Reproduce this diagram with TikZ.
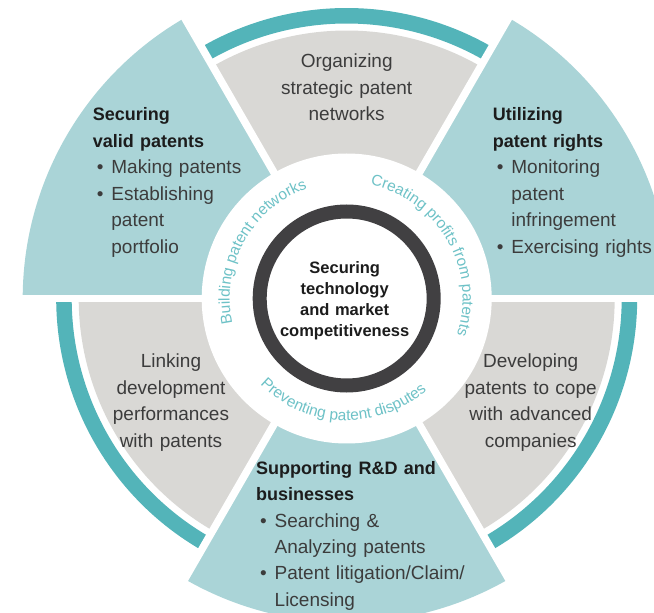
\documentclass[tikz,border=0pt]{standalone}
\usepackage{fontspec}
\setmainfont{Liberation Sans}
\usetikzlibrary{decorations.text}

\definecolor{tealsector}{HTML}{AAD4D7}
\definecolor{tealband}{HTML}{53B4B9}
\definecolor{graysector}{HTML}{D9D8D5}
\definecolor{hubring}{HTML}{414042}
\definecolor{curvetext}{HTML}{6EC2C7}
\definecolor{bodytext}{HTML}{3C3C3C}
\definecolor{headtext}{HTML}{1C1C1C}

\newcommand{\bodyfont}{\fontsize{19pt}{26.5pt}\selectfont\hyphenpenalty=10000}
\newcommand{\headfont}{\fontsize{18pt}{26.5pt}\selectfont\bfseries\color{headtext}}
\newcommand{\hubfont}{\fontsize{16.5pt}{21pt}\selectfont\bfseries}
\newcommand{\curvefont}{\fontsize{15.5pt}{17pt}\selectfont}
\newcommand{\bitem}{\hspace*{4pt}\makebox[14.5pt][l]{\textbullet}}
\newcommand{\bcont}{\hspace*{18.5pt}}

\begin{document}
\begin{tikzpicture}[x=1pt, y=1pt,
			teal part/.style={fill=tealsector},
			gray part/.style={fill=graysector},
			outer band/.style={draw=tealband, line width=15.5pt},
			gap line/.style={draw=white, line width=7.5pt},
			hub ring/.style={draw=hubring, line width=14pt},
			block/.style={inner sep=0pt, text width=300pt, align=left, font=\bodyfont, text=bodytext},
			gray block/.style={block, text width=200pt, align=center},
			hub text/.style={inner sep=0pt, text width=150pt, align=center, font=\hubfont, text=headtext},
			ring label/.style={decorate, decoration={text along path, text align=center, text color=curvetext, text={|\curvefont|#1}}}
			]
			
			\useasboundingbox (-346.7,-314.5) rectangle (307.3,298.5);
			\clip (-346.7,-314.5) rectangle (307.3,298.5);
			
			% sectors
			\fill[teal part] (0,0) -- (120:324) arc[start angle=120, end angle=180, radius=324] -- cycle;
			\fill[teal part] (0,0) -- (0:324) arc[start angle=0, end angle=60, radius=324] -- cycle;
			\fill[teal part] (0,0) -- (240:324) arc[start angle=240, end angle=300, radius=324] -- cycle;
			\fill[gray part] (0,0) -- (60:268) arc[start angle=60, end angle=120, radius=268] -- cycle;
			\fill[gray part] (0,0) -- (180:268) arc[start angle=180, end angle=240, radius=268] -- cycle;
			\fill[gray part] (0,0) -- (300:268) arc[start angle=300, end angle=360, radius=268] -- cycle;
			
			% outer bands
			\draw[outer band] (60:282.75) arc[start angle=60, end angle=120, radius=282.75];
			\draw[outer band] (180:282.75) arc[start angle=180, end angle=240, radius=282.75];
			\draw[outer band] (300:282.75) arc[start angle=300, end angle=360, radius=282.75];
			
			\foreach \a in {0,60,...,300}
				\draw[gap line] (0,0) -- (\a:340);
			
			\fill[white] (0,0) circle[radius=145];
			\draw[hub ring] (0,0) circle[radius=87];
			
			% labels round the hub
			\path[ring label={Building patent networks}] (201:117) arc[start angle=201, end angle=101, radius=117];
			\path[ring label={Creating profits from patents}] (80:116) arc[start angle=80, end angle=-20, radius=116];
			\path[ring label={Preventing patent disputes}] (218:122) arc[start angle=218, end angle=318, radius=122];
			
			\node[hub text, anchor=base] (hub) at (-2,24.5) {Securing\\technology\\and market\\competitiveness};
			
			\node[block, anchor=base west] (valid) at (-254,177.5) {{\headfont Securing}\\{\headfont valid patents}\\\bitem Making patents\\\bitem Establishing\\\bcont patent\\\bcont portfolio};
			\node[block, anchor=base west] (rights) at (146,177.5) {{\headfont Utilizing}\\{\headfont patent rights}\\\bitem Monitoring\\\bcont patent\\\bcont infringement\\\bitem Exercising rights};
			\node[block, anchor=base west] (support) at (-90.7,-175.5) {{\headfont Supporting R\&D and}\\{\headfont businesses}\\\bitem Searching \&\\\bcont Analyzing patents\\\bitem Patent litigation/Claim/\\\bcont Licensing};
			
			\node[gray block, anchor=base] (organize) at (0,230.5) {Organizing\\strategic patent\\networks};
			\node[gray block, anchor=base] (linking) at (-175.7,-69.5) {Linking\\development\\performances\\with patents};
			\node[gray block, anchor=base] (cope) at (184,-69.2) {Developing\\patents to cope\\with advanced\\companies};
		\end{tikzpicture}
\end{document}
